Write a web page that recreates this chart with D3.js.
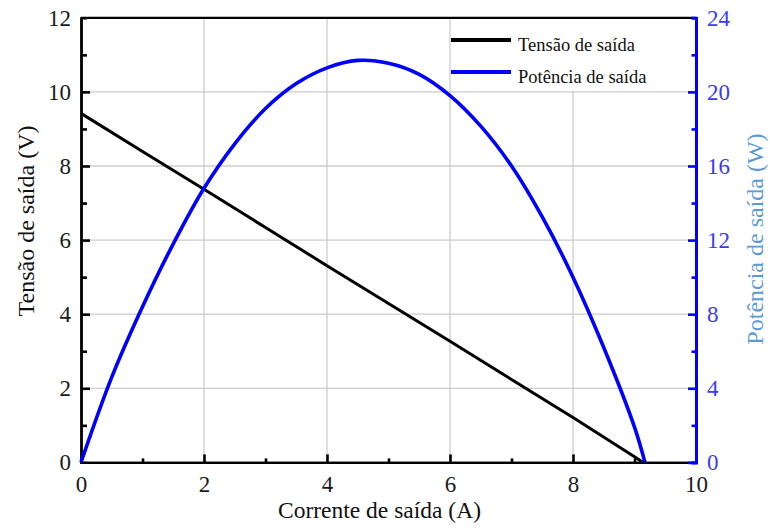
<!DOCTYPE html>
<html>
<head>
<meta charset="utf-8">
<script src="https://cdn.jsdelivr.net/npm/d3@7"></script>
<style>
  body { margin: 0; background: #fff; }
  svg { display: block; font-family: "Liberation Serif", "Times New Roman", serif; }
</style>
</head>
<body>
<svg id="chart" width="770" height="529"></svg>
<script>
// ---- data ----
const currentV = [0, 1, 2, 3, 4, 5, 6, 7, 8, 9, 9.14];
const voltage  = [9.42, 8.39, 7.37, 6.34, 5.31, 4.29, 3.27, 2.24, 1.21, 0.15, 0];

const currentP = [0, 0.5, 1, 1.5, 2, 2.5, 3, 3.5, 4, 4.5, 5, 5.5, 6, 6.5, 7, 7.5, 8, 8.5, 9, 9.17];
const power    = [0, 4.6, 8.4, 11.8, 14.8, 17.2, 19.1, 20.45, 21.3, 21.7, 21.55, 20.95, 19.8, 18.15, 16.0, 13.25, 10.0, 6.2, 1.9, 0];

const xTicks = [0, 2, 4, 6, 8, 10];
const xMinor = [1, 3, 5, 7, 9];
const yLeftTicks = [0, 2, 4, 6, 8, 10, 12];
const yLeftMinor = [1, 3, 5, 7, 9, 11];
const yRightTicks = [0, 4, 8, 12, 16, 20, 24];
const yRightMinor = [2, 6, 10, 14, 18, 22];

const seriesNames = ["Tensão de saída", "Potência de saída"];
const xTitle = "Corrente de saída (A)";
const yLeftTitle = "Tensão de saída (V)";
const yRightTitle = "Potência de saída (W)";

// ---- drawing ----
const svg = d3.select("#chart");
const x = d3.scaleLinear().domain([0, 10]).range([81, 696]);
const yL = d3.scaleLinear().domain([0, 12]).range([462.4, 17.8]);
const yR = d3.scaleLinear().domain([0, 24]).range([462.4, 17.8]);

const blue = "#0000ff";

// gridlines
const grid = svg.append("g").attr("stroke", "#cccccc").attr("stroke-width", 1.3);
grid.selectAll("line.gx").data(xTicks.filter(d => d > 0 && d < 10)).join("line")
  .attr("x1", d => x(d)).attr("x2", d => x(d))
  .attr("y1", yL(12)).attr("y2", yL(0));
grid.selectAll("line.gy").data(yLeftTicks.filter(d => d > 0 && d < 12)).join("line")
  .attr("x1", x(0)).attr("x2", x(10))
  .attr("y1", d => yL(d)).attr("y2", d => yL(d));

// legend background (covers gridlines)
svg.append("rect").attr("x", 456).attr("y", yL(12) + 1).attr("width", 236).attr("height", 72).attr("fill", "#fff");

// top frame line
svg.append("line").attr("x1", x(0)).attr("x2", x(10)).attr("y1", yL(12)).attr("y2", yL(12))
  .attr("stroke", "#000").attr("stroke-width", 2.2);

function styleAxis(g, color, w) {
  g.select(".domain").attr("stroke", color).attr("stroke-width", w);
  g.selectAll(".tick line").attr("stroke", color).attr("stroke-width", 2.6);
}

// bottom axis
const gxMinor = svg.append("g").attr("transform", `translate(0,${yL(0)})`)
  .call(d3.axisBottom(x).tickValues(xMinor).tickSize(-4).tickFormat(""));
styleAxis(gxMinor, "#000", 2.2);
const gx = svg.append("g").attr("transform", `translate(0,${yL(0)})`)
  .call(d3.axisBottom(x).tickValues(xTicks).tickSizeInner(-8).tickSizeOuter(0).tickPadding(13.5).tickFormat(d3.format("d")));
styleAxis(gx, "#000", 2.2);
gx.selectAll(".tick text").attr("font-size", 23).attr("fill", "#1a1a1a").attr("font-family", "Liberation Serif");
gx.selectAll(".tick").filter(d => d === 0 || d === 10).select("line").remove();

// left axis
const gyMinor = svg.append("g").attr("transform", `translate(${x(0)},0)`)
  .call(d3.axisLeft(yL).tickValues(yLeftMinor).tickSize(-6).tickFormat(""));
styleAxis(gyMinor, "#000", 2.4);
const gy = svg.append("g").attr("transform", `translate(${x(0)},0)`)
  .call(d3.axisLeft(yL).tickValues(yLeftTicks).tickSizeInner(-9).tickSizeOuter(0).tickPadding(10).tickFormat(d3.format("d")));
styleAxis(gy, "#000", 2.4);
gy.selectAll(".tick text").attr("font-size", 23).attr("fill", "#1a1a1a").attr("font-family", "Liberation Serif");
gy.selectAll(".tick").filter(d => d === 0 || d === 12).select("line").remove();

// series
const lineV = d3.line().x((d, i) => x(currentV[i])).y(d => yL(d));
svg.append("path").datum(voltage).attr("d", lineV)
  .attr("fill", "none").attr("stroke", "#000").attr("stroke-width", 3);

const lineP = d3.line().x((d, i) => x(currentP[i])).y(d => yR(d)).curve(d3.curveCatmullRom.alpha(0.5));
svg.append("path").datum(power).attr("d", lineP)
  .attr("fill", "none").attr("stroke", blue).attr("stroke-width", 3.6);

// right axis
const grMinor = svg.append("g").attr("transform", `translate(${x(10)},0)`)
  .call(d3.axisRight(yR).tickValues(yRightMinor).tickSize(-4.5).tickFormat(""));
styleAxis(grMinor, blue, 3);
const gr = svg.append("g").attr("transform", `translate(${x(10)},0)`)
  .call(d3.axisRight(yR).tickValues(yRightTicks).tickSizeInner(-8).tickSizeOuter(0).tickPadding(11).tickFormat(d3.format("d")));
styleAxis(gr, blue, 3);
gr.selectAll(".tick text").attr("font-size", 23).attr("fill", "#3b3bf5").attr("font-family", "Liberation Serif");
gr.selectAll(".tick").filter(d => d === 24).select("line").remove();

// legend
const legend = svg.append("g");
const legendColors = ["#000", blue];
const legendY = [40, 72];
seriesNames.forEach((name, i) => {
  legend.append("line").attr("x1", 451).attr("x2", 511)
    .attr("y1", legendY[i]).attr("y2", legendY[i])
    .attr("stroke", legendColors[i]).attr("stroke-width", 4);
  legend.append("text").attr("x", 518).attr("y", legendY[i] + 11)
    .attr("font-size", 18.5).attr("fill", "#111").text(name);
});

// titles
svg.append("text").attr("x", 379.5).attr("y", 518).attr("text-anchor", "middle")
  .attr("font-size", 23.5).attr("fill", "#111").text(xTitle);
svg.append("text").attr("transform", "translate(34,221) rotate(-90)").attr("text-anchor", "middle")
  .attr("font-size", 24).attr("fill", "#111").text(yLeftTitle);
svg.append("text").attr("transform", "translate(763,239) rotate(-90)").attr("text-anchor", "middle")
  .attr("font-size", 24).attr("fill", "#5b9bd5").text(yRightTitle);
</script>
</body>
</html>
